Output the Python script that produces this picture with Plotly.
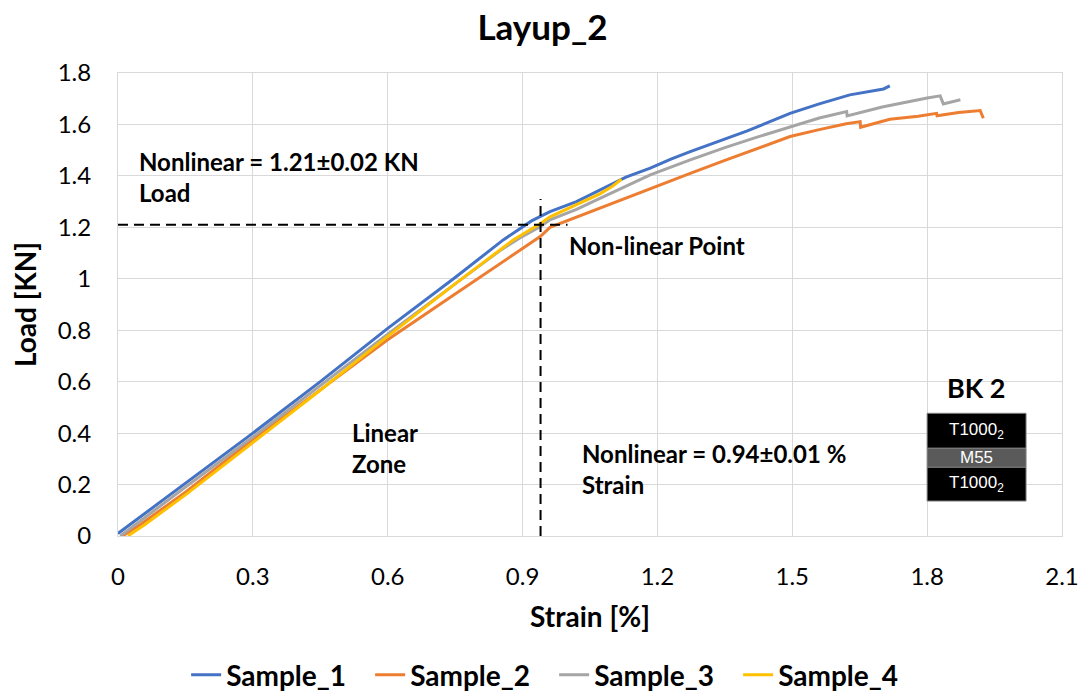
import plotly.graph_objects as go

# ---------------- data ----------------
SERIES_NAMES = ["Sample_1", "Sample_2", "Sample_3", "Sample_4"]

s1_strain = [0.0, 0.05, 0.15, 0.30, 0.45, 0.60, 0.75, 0.857, 0.92, 0.961, 1.02, 1.072, 1.13,
             1.184, 1.23, 1.273, 1.33, 1.40, 1.495, 1.56, 1.628, 1.67, 1.703, 1.717]
s1_load = [0.01, 0.075, 0.205, 0.40, 0.60, 0.807, 1.005, 1.151, 1.225, 1.261, 1.30, 1.345, 1.395,
           1.43, 1.465, 1.494, 1.53, 1.575, 1.643, 1.68, 1.715, 1.728, 1.738, 1.75]

s2_strain = [0.01, 0.05, 0.15, 0.30, 0.45, 0.599, 0.75, 0.85, 0.894, 0.94, 0.961, 1.02, 1.072,
             1.13, 1.184, 1.273, 1.35, 1.42, 1.495, 1.56, 1.62, 1.651, 1.652, 1.717, 1.78, 1.821,
             1.822, 1.87, 1.918, 1.925]
s2_load = [0.0, 0.045, 0.17, 0.375, 0.568, 0.762, 0.941, 1.06, 1.112, 1.165, 1.2, 1.24, 1.274,
           1.315, 1.352, 1.41, 1.46, 1.505, 1.553, 1.58, 1.603, 1.611, 1.589, 1.62, 1.632, 1.643,
           1.634, 1.646, 1.654, 1.624]

s3_strain = [0.005, 0.05, 0.15, 0.30, 0.45, 0.60, 0.75, 0.85, 0.90, 0.94, 0.961, 1.02, 1.072,
             1.13, 1.184, 1.273, 1.35, 1.42, 1.495, 1.56, 1.621, 1.622, 1.70, 1.76, 1.80, 1.829,
             1.836, 1.874]
s3_load = [0.0, 0.06, 0.19, 0.385, 0.585, 0.785, 0.98, 1.11, 1.165, 1.203, 1.229, 1.27, 1.313,
           1.36, 1.404, 1.462, 1.51, 1.55, 1.591, 1.625, 1.65, 1.633, 1.668, 1.69, 1.703, 1.711,
           1.68, 1.696]

s4_strain = [0.022, 0.06, 0.15, 0.30, 0.445, 0.599, 0.75, 0.879, 0.94, 0.961, 1.02, 1.072, 1.10, 1.12]
s4_load = [0.0, 0.045, 0.16, 0.365, 0.56, 0.775, 0.98, 1.151, 1.215, 1.241, 1.29, 1.33, 1.36, 1.387]

X_TICKS = [0, 0.3, 0.6, 0.9, 1.2, 1.5, 1.8, 2.1]
X_TICK_LABELS = ["0", "0.3", "0.6", "0.9", "1.2", "1.5", "1.8", "2.1"]
Y_TICKS = [0, 0.2, 0.4, 0.6, 0.8, 1.0, 1.2, 1.4, 1.6, 1.8]
Y_TICK_LABELS = ["0", "0.2", "0.4", "0.6", "0.8", "1", "1.2", "1.4", "1.6", "1.8"]

NL_LOAD = 1.21      # KN
NL_STRAIN = 0.94    # %

COLORS = ["#4472C4", "#ED7D31", "#A5A5A5", "#FFC000"]
FONT = "Lato"

fig = go.Figure()
for name, xs, ys, col in zip(SERIES_NAMES,
                             [s1_strain, s2_strain, s3_strain, s4_strain],
                             [s1_load, s2_load, s3_load, s4_load], COLORS):
    fig.add_trace(go.Scatter(x=xs, y=ys, mode="lines", name=name,
                             line=dict(color=col, width=3)))

# dashed guide lines for the non-linear point
fig.add_shape(type="line", xref="x", yref="y", x0=0, x1=1.0, y0=NL_LOAD, y1=NL_LOAD,
              line=dict(color="black", width=2, dash="10px,6px"))
fig.add_shape(type="line", xref="x", yref="y", x0=NL_STRAIN, x1=NL_STRAIN, y0=0, y1=1.31,
              line=dict(color="black", width=2, dash="10px,6px"))

# layup box (BK 2)
box = [(0.477, 0.341, "black", "T1000<sub>2</sub>"),
       (0.341, 0.267, "#5A5A5A", "M55"),
       (0.267, 0.136, "black", "T1000<sub>2</sub>")]
for y_top, y_bot, fill, label in box:
    fig.add_shape(type="rect", xref="x", yref="y", x0=1.80, x1=2.02, y0=y_bot, y1=y_top,
                  fillcolor=fill, line=dict(color="#7F7F7F", width=1), layer="above")
    fig.add_annotation(x=1.91, y=(y_top + y_bot) / 2, xref="x", yref="y", text=label,
                       showarrow=False, font=dict(family="Liberation Sans", size=17, color="white"))

bold = dict(family=FONT, size=24, color="black", weight="bold")
fig.add_annotation(x=1.91, y=0.578, xref="x", yref="y", text="BK 2", showarrow=False,
                   font=dict(family=FONT, size=27, color="black", weight="bold"))
fig.add_annotation(x=0.042, y=1.394, xref="x", yref="y", xanchor="left", align="left",
                   text="Nonlinear = 1.21±0.02 KN<br>Load", showarrow=False, font=bold)
fig.add_annotation(x=0.999, y=1.128, xref="x", yref="y", xanchor="left", align="left",
                   text="Non-linear Point", showarrow=False, font=bold)
fig.add_annotation(x=0.516, y=0.342, xref="x", yref="y", xanchor="left", align="left",
                   text="Linear<br>Zone", showarrow=False, font=bold)
fig.add_annotation(x=1.028, y=0.262, xref="x", yref="y", xanchor="left", align="left",
                   text="Nonlinear = 0.94±0.01 %<br>Strain", showarrow=False, font=bold)

axis_common = dict(showgrid=True, gridcolor="#D9D9D9", gridwidth=1, zeroline=False,
                   showline=True, linecolor="#D9D9D9", linewidth=1, mirror=True, ticks="",
                   automargin=False,
                   tickfont=dict(family=FONT, size=24, color="black"))

fig.update_layout(
    width=1085, height=692,
    margin=dict(l=118, r=23, t=73, b=156, autoexpand=False),
    paper_bgcolor="white", plot_bgcolor="white",
    font=dict(family=FONT, color="black"),
    title=dict(text="Layup_2", x=0.5, xanchor="center", y=1 - 28 / 692, yanchor="middle",
               yref="container", font=dict(family=FONT, size=35, color="black", weight="bold")),
    xaxis=dict(range=[0, 2.1], tickvals=X_TICKS, ticktext=X_TICK_LABELS,
               ticklabelstandoff=19,
               title=dict(text="Strain [%]", standoff=18,
                          font=dict(family=FONT, size=28, color="black", weight="bold")),
               **axis_common),
    yaxis=dict(range=[0, 1.8], tickvals=Y_TICKS, ticktext=Y_TICK_LABELS,
               ticklabelstandoff=21,
               title=dict(text="Load [KN]", standoff=12,
                          font=dict(family=FONT, size=28, color="black", weight="bold")),
               **axis_common),
    legend=dict(orientation="h", x=0.462, xanchor="center", xref="paper",
                y=1 - 675 / 692, yanchor="middle", yref="container",
                font=dict(family=FONT, size=28, color="black", weight="bold"),
                entrywidth=139, entrywidthmode="pixels", itemwidth=30),
    showlegend=True,
)

fig.write_html("out.html")
